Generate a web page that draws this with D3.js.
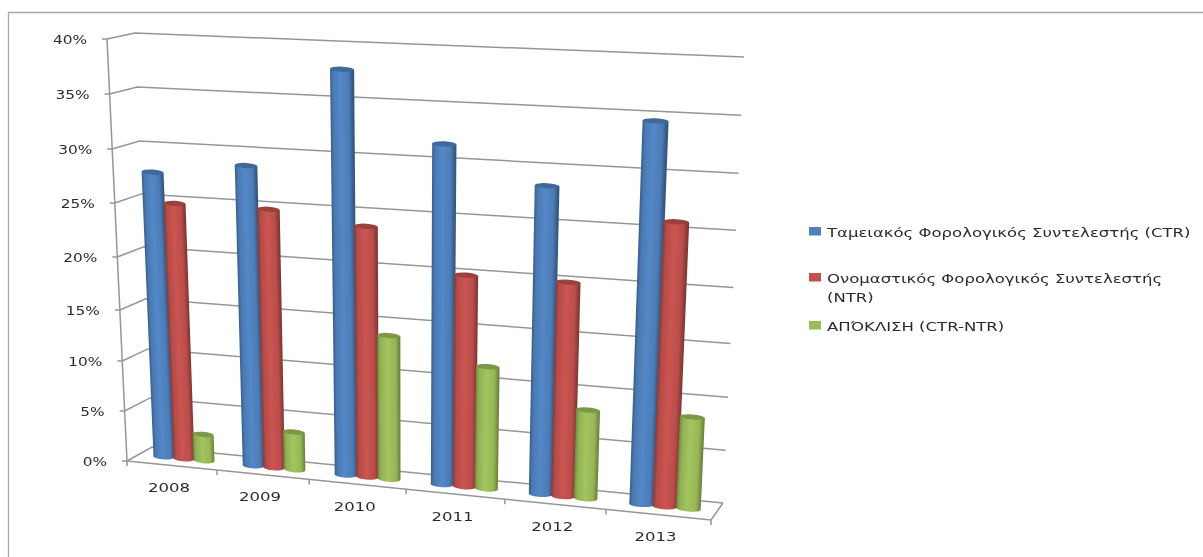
<!DOCTYPE html>
<html><head><meta charset="utf-8">
<script src="https://cdnjs.cloudflare.com/ajax/libs/d3/7.8.5/d3.min.js"></script>
<style>html,body{margin:0;padding:0;background:#fff;overflow:hidden}text{font-family:"DejaVu Sans",sans-serif;fill:#2b2b33}</style>
</head><body><svg id="c" width="1203" height="557"></svg>
<script>
const years = ["2008","2009","2010","2011","2012","2013"];
const ctr = [27.6,28.7,37.8,31.6,28.4,34.5];
const ntr = [24.8,24.8,23.8,20.0,20.0,25.9];
const gap = [2.6,3.7,13.9,11.7,8.4,8.6];
const legendLines = [["Ταμειακός Φορολογικός Συντελεστής (CTR)"],["Ονομαστικός Φορολογικός Συντελεστής","(NTR)"],["ΑΠΌΚΛΙΣΗ (CTR-NTR)"]];
const ticks = [0,5,10,15,20,25,30,35,40];
const colors = ["#4f81bd","#c0504d","#9bbb59"];

const svg = d3.select("#c");
const defs = svg.append("defs");
defs.append("filter").attr("id","soft").attr("x","-5%").attr("y","-5%").attr("width","110%").attr("height","110%")
  .append("feGaussianBlur").attr("stdDeviation",0.7);
defs.append("filter").attr("id","softT").attr("x","-5%").attr("y","-20%").attr("width","110%").attr("height","140%")
  .append("feGaussianBlur").attr("stdDeviation",0.45);
const root = svg.append("g").attr("filter","url(#soft)");

// perspective helpers: value→height share, category→share along the floor
const hShare = d3.scaleLinear().domain(ticks).range([0,50,100,151,204,258,312,367,422].map(d=>d/422));
const uShare = d3.scaleLinear().domain([0,1,2,3,4,5,6]).range([0,.154,.312,.478,.647,.82,1]);
// corners: [front, back] for left & right, bottom & top
const LB=[[127,461],[152,447]], LT=[[107,39],[135,33]], RB=[[711,520],[723,503]], RT=[[733,63],[744,57]];
const mix=(a,b,t)=>[a[0]+(b[0]-a[0])*t,a[1]+(b[1]-a[1])*t];
function project(c,d,v){
  const f=uShare(c), h=hShare(v);
  const l=mix(mix(LB[0],LB[1],d),mix(LT[0],LT[1],d),h);
  const r=mix(mix(RB[0],RB[1],d),mix(RT[0],RT[1],d),h);
  return mix(l,r,f);
}
const line=d3.line();
const wall=root.append("g").attr("fill","none").attr("stroke","#969696").attr("stroke-width",1.5);
ticks.forEach(t=>{
  wall.append("path").attr("d",line([project(0,0,t),project(0,1,t),project(6,1,t)]));
  const p=project(0,0,t);
  wall.append("path").attr("d",line([[p[0]-5,p[1]],p]));
});
wall.append("path").attr("d",line([project(0,0,40),project(0,0,0)]));
wall.append("path").attr("d",line([project(0,0,0),project(6,0,0),project(6,1,0)]));
d3.range(0,7).forEach(c=>{const p=project(c,0,0);wall.append("path").attr("d",line([p,[p[0],p[1]+5]]));});

// cylinders: each has a gradient whose bands run along the bar's perspective lean
const series=[ctr,ntr,gap], off=[-.225,0,.225], r=.118, ry=3;
const bars=root.append("g");
years.forEach((y,ci)=>{
  series.forEach((vals,si)=>{
    const c=ci+.5+off[si], v=vals[ci], d=.5;
    const lb=project(c-r,d,0), rb=project(c+r,d,0), lt=project(c-r,d,v), rt=project(c+r,d,v);
    const ex=lt[0]-lb[0], ey=lt[1]-lb[1], L=Math.hypot(ex,ey), nx=-ey/L, ny=ex/L;
    const w=(rb[0]-lb[0])*nx+(rb[1]-lb[1])*ny;
    const id=`g${ci}_${si}`, base=d3.color(colors[si]);
    const g=defs.append("linearGradient").attr("id",id).attr("gradientUnits","userSpaceOnUse")
      .attr("x1",lb[0]).attr("y1",lb[1]).attr("x2",lb[0]+nx*w).attr("y2",lb[1]+ny*w);
    [[0,base.darker(.9)],[.14,base.darker(.15)],[.45,base.brighter(.14)],[.8,base.darker(.08)],[1,base.darker(1.1)]]
      .forEach(s=>g.append("stop").attr("offset",s[0]).attr("stop-color",s[1]));
    const tilt=Math.atan2(rt[1]-lt[1],rt[0]-lt[0])*180/Math.PI;
    const rxT=Math.hypot(rt[0]-lt[0],rt[1]-lt[1])/2, rxB=Math.hypot(rb[0]-lb[0],rb[1]-lb[1])/2;
    bars.append("path")
      .attr("d",`M${lb}L${lt}L${rt}L${rb}A${rxB},${ry} ${tilt} 0 1 ${lb}Z`)
      .attr("fill",`url(#${id})`);
    bars.append("ellipse")
      .attr("transform",`translate(${(lt[0]+rt[0])/2},${(lt[1]+rt[1])/2}) rotate(${tilt})`)
      .attr("rx",rxT).attr("ry",ry-.4)
      .attr("fill",base.darker(.6));
  });
});

// frame
svg.append("path").attr("d","M8.5,557V12.5H1203").attr("fill","none").attr("stroke","#a8a8a8").attr("stroke-width",1.3);

// labels
const labels=svg.append("g").attr("filter","url(#softT)");
ticks.forEach(t=>{
  const p=project(0,0,t);
  labels.append("text").attr("text-anchor","end")
    .attr("transform",`translate(${p[0]-20},${p[1]+5}) scale(1.18,1)`)
    .attr("font-size",13).text(t+"%");
});
years.forEach((y,i)=>{
  const p=project(i+.5,0,0);
  labels.append("text").attr("text-anchor","middle")
    .attr("transform",`translate(${p[0]-3},${p[1]+26.5}) scale(1.27,1)`)
    .attr("font-size",13).text(y);
});
const legY=[237,283,331];
legendLines.forEach((ls,i)=>{
  labels.append("rect").attr("x",809).attr("y",legY[i]-10).attr("width",12).attr("height",8.5).attr("fill",colors[i]);
  ls.forEach((t,j)=>{
    labels.append("text").attr("transform",`translate(827,${legY[i]+j*19}) scale(1.27,1)`)
      .attr("font-size",13).text(t);
  });
});
</script></body></html>
